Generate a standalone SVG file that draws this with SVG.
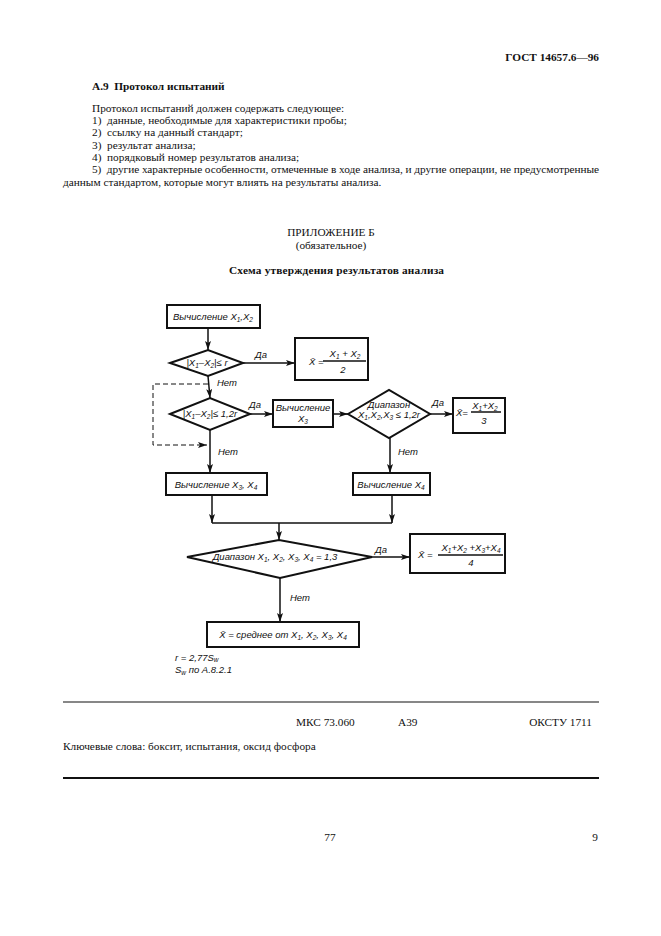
<svg xmlns="http://www.w3.org/2000/svg" width="661" height="936" viewBox="0 0 661 936">
<style>
.t { font-family: "Liberation Serif", "Times New Roman", serif; font-size: 11.3px; fill: #111; white-space: pre; }
.b { font-weight: bold; }
.fc { font-family: "Liberation Sans", "DejaVu Sans", sans-serif; font-style: italic; font-size: 9.5px; fill: #111; }
.s { font-size: 6.5px; }
.ln { stroke: #111; stroke-width: 1.5; fill: none; }
.dash { stroke: #111; stroke-width: 1; fill: none; stroke-dasharray: 5 3; }
.box { fill: #fff; stroke: #111; stroke-width: 2; }
.rule { stroke: #111; fill: none; }
</style>
<defs>
<marker id="ar" markerUnits="userSpaceOnUse" markerWidth="9" markerHeight="6" refX="9" refY="3" orient="auto">
<path d="M0,0 L9,3 L0,6 L2,3 z" fill="#111"/>
</marker>
</defs>
<rect width="661" height="936" fill="#fff"/>

<g id="page-text">
<text class="t b" x="599" y="61" text-anchor="end" font-size="11.5">ГОСТ 14657.6—96</text>
<text class="t b" x="92" y="90" font-size="10.5" xml:space="preserve">А.9  Протокол испытаний</text>
<text class="t" x="92" y="112">Протокол испытаний должен содержать следующее:</text>
<text class="t" x="92" y="124" xml:space="preserve">1)  данные, необходимые для характеристики пробы;</text>
<text class="t" x="92" y="136" xml:space="preserve">2)  ссылку на данный стандарт;</text>
<text class="t" x="92" y="149" xml:space="preserve">3)  результат анализа;</text>
<text class="t" x="92" y="161" xml:space="preserve">4)  порядковый номер результатов анализа;</text>
<text class="t" x="92" y="173" textLength="507" lengthAdjust="spacing" xml:space="preserve">5)  другие характерные особенности, отмеченные в ходе анализа, и другие операции, не предусмотренные</text>
<text class="t" x="63" y="186">данным стандартом, которые могут влиять на результаты анализа.</text>
<text class="t" x="331" y="236" text-anchor="middle" font-size="11.5">ПРИЛОЖЕНИЕ Б</text>
<text class="t" x="331" y="249" text-anchor="middle" font-size="10.5">(обязательное)</text>
<text class="t b" x="229" y="274" textLength="215" lengthAdjust="spacing" font-size="11.5">Схема утверждения результатов анализа</text>
</g>

<g id="connectors">
<line class="ln" x1="208" y1="328" x2="208" y2="350" marker-end="url(#ar)"/>
<line class="ln" x1="243" y1="363" x2="295" y2="363" marker-end="url(#ar)"/>
<line class="ln" x1="208" y1="376" x2="210" y2="398" marker-end="url(#ar)"/>
<polyline class="dash" points="208,384 153,384 153,445 207,445" marker-end="url(#ar)"/>
<line class="ln" x1="250" y1="414" x2="273" y2="414" marker-end="url(#ar)"/>
<line class="ln" x1="333" y1="414" x2="348" y2="414" marker-end="url(#ar)"/>
<line class="ln" x1="430" y1="414" x2="453" y2="414" marker-end="url(#ar)"/>
<line class="ln" x1="210" y1="430" x2="210" y2="473" marker-end="url(#ar)"/>
<line class="ln" x1="390" y1="438" x2="390" y2="473" marker-end="url(#ar)"/>
<line class="ln" x1="212" y1="495" x2="212" y2="523" marker-end="url(#ar)"/>
<line class="ln" x1="392" y1="495" x2="392" y2="523" marker-end="url(#ar)"/>
<line class="ln" x1="212" y1="523" x2="392" y2="523"/>
<line class="ln" x1="279" y1="523" x2="279" y2="540" marker-end="url(#ar)"/>
<line class="ln" x1="372" y1="557" x2="410" y2="557" marker-end="url(#ar)"/>
<line class="ln" x1="280" y1="578" x2="280" y2="622" marker-end="url(#ar)"/>
<text class="fc" x="255" y="358" font-size="10">Да</text>
<text class="fc" x="217" y="386">Нет</text>
<text class="fc" x="249" y="408" font-size="10">Да</text>
<text class="fc" x="218" y="455">Нет</text>
<text class="fc" x="432" y="406" font-size="10">Да</text>
<text class="fc" x="398" y="455">Нет</text>
<text class="fc" x="375" y="553" font-size="10.5">Да</text>
<text class="fc" x="290" y="601">Нет</text>
</g>

<g id="n-calc12">
<rect class="box" x="167" y="305" width="93" height="23"/>
<text class="fc" x="213" y="320" text-anchor="middle">Вычисление X<tspan class="s" dy="2">1</tspan><tspan dy="-2">,X</tspan><tspan class="s" dy="2">2</tspan></text>
</g>

<g id="n-check-r">
<polygon class="box" points="170,363 208,350 243,363 208,376"/>
<text class="fc" x="207" y="366" text-anchor="middle" font-size="8">|X<tspan class="s" dy="2">1</tspan><tspan dy="-2">–X</tspan><tspan class="s" dy="2">2</tspan><tspan dy="-2">|≤ r</tspan></text>
</g>

<g id="n-mean2">
<rect class="box" x="295" y="338" width="73" height="42"/>
<text class="fc" x="309" y="365" font-size="10">X̄ =</text>
<text class="fc" x="345" y="357" text-anchor="middle" font-size="10">X<tspan class="s" dy="2">1</tspan><tspan dy="-2"> + X</tspan><tspan class="s" dy="2">2</tspan></text>
<line class="ln" x1="323" y1="361" x2="366" y2="361" stroke-width="1"/>
<text class="fc" x="343" y="373" text-anchor="middle" font-size="10">2</text>
</g>

<g id="n-check-12r">
<polygon class="box" points="170,414 210,398 250,414 210,430"/>
<text class="fc" x="210" y="417" text-anchor="middle" font-size="8">|X<tspan class="s" dy="2">1</tspan><tspan dy="-2">–X</tspan><tspan class="s" dy="2">2</tspan><tspan dy="-2">|≤ 1,2r</tspan></text>
</g>

<g id="n-calc3">
<rect class="box" x="273" y="400" width="60" height="27"/>
<text class="fc" x="303" y="411" text-anchor="middle" font-size="9">Вычисление</text>
<text class="fc" x="303" y="422" text-anchor="middle" font-size="9">X<tspan class="s" dy="2">3</tspan></text>
</g>

<g id="n-range3">
<polygon class="box" points="348,414 389,390 430,414 389,438"/>
<text class="fc" x="389" y="408" text-anchor="middle" font-size="8">Диапазон</text>
<text class="fc" x="389" y="418" text-anchor="middle" font-size="7.5">X<tspan class="s" dy="2">1</tspan><tspan dy="-2">,X</tspan><tspan class="s" dy="2">2</tspan><tspan dy="-2">,X</tspan><tspan class="s" dy="2">3</tspan><tspan dy="-2"> ≤ 1,2r</tspan></text>
</g>

<g id="n-mean3">
<rect class="box" x="453" y="398" width="52" height="35"/>
<text class="fc" x="456" y="416" font-size="8.5">X̄=</text>
<text class="fc" x="485" y="409" text-anchor="middle" font-size="8">X<tspan class="s" dy="2">1</tspan><tspan dy="-2">+X</tspan><tspan class="s" dy="2">2</tspan></text>
<line class="ln" x1="471" y1="412" x2="501" y2="412" stroke-width="1"/>
<text class="fc" x="484" y="424" text-anchor="middle" font-size="8.5">3</text>
</g>

<g id="n-calc34">
<rect class="box" x="166" y="473" width="101" height="22"/>
<text class="fc" x="216" y="488" text-anchor="middle" font-size="10">Вычисление X<tspan class="s" dy="2">3</tspan><tspan dy="-2">, X</tspan><tspan class="s" dy="2">4</tspan></text>
</g>

<g id="n-calc4">
<rect class="box" x="353" y="473" width="77" height="22"/>
<text class="fc" x="391" y="488" text-anchor="middle" font-size="9.5">Вычисление X<tspan class="s" dy="2">4</tspan></text>
</g>

<g id="n-range4">
<polygon class="box" points="187,557 279,540 372,557 280,578"/>
<text class="fc" x="275" y="560" text-anchor="middle" font-size="9">Диапазон X<tspan class="s" dy="2">1</tspan><tspan dy="-2">, X</tspan><tspan class="s" dy="2">2</tspan><tspan dy="-2">, X</tspan><tspan class="s" dy="2">3</tspan><tspan dy="-2">, X</tspan><tspan class="s" dy="2">4</tspan><tspan dy="-2"> = 1,3</tspan></text>
</g>

<g id="n-mean4">
<rect class="box" x="410" y="534" width="95" height="39"/>
<text class="fc" x="418" y="558" font-size="9">X̄ =</text>
<text class="fc" x="471" y="551" text-anchor="middle" font-size="8.5">X<tspan class="s" dy="2">1</tspan><tspan dy="-2">+X</tspan><tspan class="s" dy="2">2</tspan><tspan dy="-2"> +X</tspan><tspan class="s" dy="2">3</tspan><tspan dy="-2">+X</tspan><tspan class="s" dy="2">4</tspan></text>
<line class="ln" x1="438" y1="555" x2="503" y2="555" stroke-width="1"/>
<text class="fc" x="471" y="566" text-anchor="middle" font-size="8.5">4</text>
</g>

<g id="n-mean-all">
<rect class="box" x="207" y="622" width="152" height="25"/>
<text class="fc" x="283" y="638" text-anchor="middle" font-size="10">X̄ = среднее от X<tspan class="s" dy="2">1</tspan><tspan dy="-2">, X</tspan><tspan class="s" dy="2">2</tspan><tspan dy="-2">, X</tspan><tspan class="s" dy="2">3</tspan><tspan dy="-2">, X</tspan><tspan class="s" dy="2">4</tspan></text>
</g>

<g id="notes">
<text class="fc" x="175" y="661" font-size="10">r = 2,77S<tspan class="s" dy="1">w</tspan></text>
<text class="fc" x="175" y="673" font-size="10">S<tspan class="s" dy="2">w</tspan><tspan dy="-2"> по А.8.2.1</tspan></text>
</g>

<g id="footer">
<line class="rule" x1="63" y1="702" x2="599" y2="702" stroke-width="1.2"/>
<text class="t" x="296" y="726">МКС 73.060</text>
<text class="t" x="398" y="726">А39</text>
<text class="t" x="592" y="726" text-anchor="end">ОКСТУ 1711</text>
<text class="t" x="63" y="750">Ключевые слова: боксит, испытания, оксид фосфора</text>
<line class="rule" x1="63" y1="778" x2="599" y2="778" stroke-width="2"/>
<text class="t" x="330" y="841" text-anchor="middle" font-size="10.5">77</text>
<text class="t" x="598" y="841" text-anchor="end" font-size="10.5">9</text>
</g>
</svg>
